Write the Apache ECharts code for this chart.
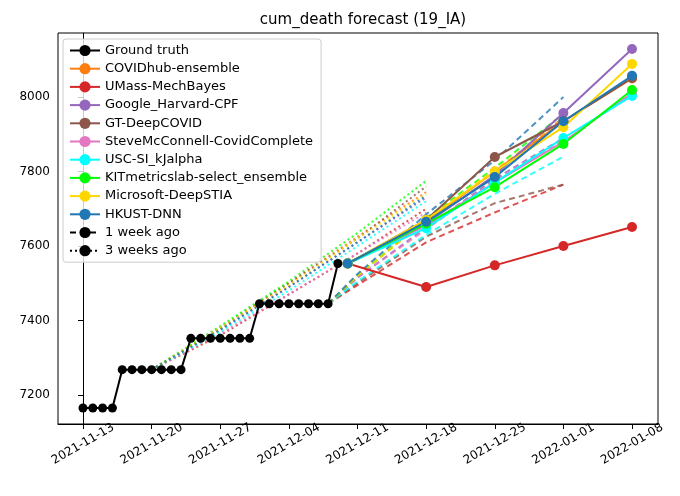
<!DOCTYPE html>
<html>
<head>
<meta charset="utf-8">
<script src="https://cdn.jsdelivr.net/npm/echarts@6/dist/echarts.min.js"></script>
<style>html,body{margin:0;padding:0;background:#fff}#root{width:680px;height:496px}</style>
</head>
<body>
<div id="root"></div>
<script>
// x values are days since 2021-11-13
var tickDays = [0, 7, 14, 21, 28, 35, 42, 49, 56]
var tickLabels = ['2021-11-13', '2021-11-20', '2021-11-27', '2021-12-04', '2021-12-11', '2021-12-18', '2021-12-25', '2022-01-01', '2022-01-08']
var yTicks = [7200, 7400, 7600, 7800, 8000]

var truthDays = [0,1,2,3,4,5,6,7,8,9,10,11,12,13,14,15,16,17,18,19,20,21,22,23,24,25,26,27]
var truthValues = [7165,7165,7165,7165,7268,7268,7268,7268,7268,7268,7268,7352,7352,7352,7352,7352,7352,7352,
  7445,7445,7445,7445,7445,7445,7445,7445,7553,7553]

var models = ['COVIDhub-ensemble', 'UMass-MechBayes', 'Google_Harvard-CPF', 'GT-DeepCOVID',
  'SteveMcConnell-CovidComplete', 'USC-SI_kJalpha', 'KITmetricslab-select_ensemble', 'Microsoft-DeepSTIA', 'HKUST-DNN']
var colors = ['#ff7f0e', '#d62728', '#9467bd', '#8c564b', '#e377c2', '#00ffff', '#00ff00', '#ffd700', '#1f77b4']

// current forecast: start, then 12-18, 12-25, 01-01, 01-08
var fcDays = [27, 35, 42, 49, 56]
var fcValues = [
  [7553, 7665, 7800, 7935, 8050],
  [7553, 7490, 7548, 7600, 7651],
  [7553, 7660, 7790, 7957, 8129],
  [7553, 7670, 7839, 7935, 8051],
  [7553, 7655, 7770, 7880, 8010],
  [7553, 7648, 7770, 7890, 8003],
  [7553, 7660, 7758, 7874, 8019],
  [7553, 7670, 7800, 7919, 8089],
  [7553, 7665, 7785, 7935, 8057]
]

// 1 week ago forecast
var wk1Days = [25, 28, 35, 42, 49]
var wk1Values = [
  [7445, 7520, 7670, 7800, 7945],
  [7445, 7495, 7610, 7690, 7765],
  [7445, 7515, 7650, 7780, 7890],
  [7445, 7500, 7625, 7715, 7765],
  [7445, 7515, 7645, 7775, 7885],
  [7445, 7505, 7630, 7740, 7840],
  [7445, 7520, 7675, 7810, 7955],
  [7445, 7520, 7670, 7805, 7935],
  [7445, 7525, 7685, 7830, 8000]
]

// 3 weeks ago forecast
var wk3Days = [7, 14, 21, 28, 35]
var wk3Values = [
  [7268, 7380, 7500, 7625, 7745],
  [7268, 7360, 7470, 7580, 7700],
  [7268, 7375, 7490, 7610, 7730],
  [7268, 7380, 7500, 7620, 7760],
  [7268, 7365, 7470, 7580, 7690],
  [7268, 7370, 7480, 7600, 7720],
  [7268, 7385, 7505, 7635, 7775],
  [7268, 7380, 7495, 7620, 7740],
  [7268, 7375, 7490, 7610, 7735]
]

var pairs = (xs, ys) => xs.map((x, i) => [x, ys[i]])

var series = []
series.push({ name: 'Ground truth', type: 'line', data: pairs(truthDays, truthValues), symbol: 'circle', symbolSize: 9, z: 3,
  lineStyle: { color: '#000', width: 2 }, itemStyle: { color: '#000' } })
models.forEach((m, i) => {
  series.push({ name: m, type: 'line', data: pairs(fcDays, fcValues[i]), symbol: 'circle', symbolSize: 10, z: 4,
    lineStyle: { color: colors[i], width: 2 }, itemStyle: { color: colors[i] } })
})
models.forEach((m, i) => {
  series.push({ name: m + ' (3wk)', type: 'line', data: pairs(wk3Days, wk3Values[i]), symbol: 'none', z: 1,
    lineStyle: { color: colors[i], width: 2, type: [2, 3], opacity: 0.8 } })
  series.push({ name: m + ' (1wk)', type: 'line', data: pairs(wk1Days, wk1Values[i]), symbol: 'none', z: 2,
    lineStyle: { color: colors[i], width: 2, type: [6, 4], opacity: 0.8 } })
})
series.push({ name: '1 week ago', type: 'line', data: [], symbol: 'none', lineStyle: { color: '#000', width: 2, type: [6, 4] }, itemStyle: { color: '#000' } })
series.push({ name: '3 weeks ago', type: 'line', data: [], symbol: 'none', lineStyle: { color: '#000', width: 2, type: [2, 3] }, itemStyle: { color: '#000' } })

var chart = echarts.init(document.getElementById('root'))
chart.setOption({
  animation: false,
  textStyle: { fontFamily: 'DejaVu Sans' },
  title: { text: 'cum_death forecast (19_IA)', left: 358, textAlign: 'center', top: 8,
    textStyle: { fontSize: 15, fontWeight: 'normal', color: '#000', fontFamily: 'DejaVu Sans' } },
  grid: { left: 58, right: 22, top: 33, bottom: 72, show: true, borderColor: '#000', borderWidth: 1 },
  legend: {
    data: ['Ground truth'].concat(models, ['1 week ago', '3 weeks ago']),
    orient: 'vertical', left: 63, top: 39, itemGap: 5.2, itemWidth: 30, itemHeight: 14,
    backgroundColor: 'rgba(255,255,255,0.8)', borderColor: '#ccc', borderWidth: 1, borderRadius: 3, padding: [5, 8, 5, 6],
    textStyle: { fontSize: 13, color: '#000', fontFamily: 'DejaVu Sans' }, selectedMode: false
  },
  xAxis: {
    type: 'value', min: -2.55, max: 58.65,
    axisLine: { show: true, lineStyle: { color: '#000' } }, splitLine: { show: false },
    axisTick: { show: true, length: 5, lineStyle: { color: '#000' }, customValues: tickDays },
    axisLabel: { customValues: tickDays, rotate: 30, color: '#000', fontSize: 12, margin: 20,
      align: 'center', verticalAlign: 'middle',
      formatter: v => tickLabels[tickDays.indexOf(Math.round(v))] || '' }
  },
  yAxis: {
    type: 'value', min: 7122, max: 8172,
    axisLine: { show: true, lineStyle: { color: '#000' } }, splitLine: { show: false },
    axisTick: { show: true, length: 5, lineStyle: { color: '#000' }, customValues: yTicks },
    axisLabel: { customValues: yTicks, color: '#000', fontSize: 12, margin: 8, formatter: v => String(v) }
  },
  series
})
</script>
</body>
</html>
